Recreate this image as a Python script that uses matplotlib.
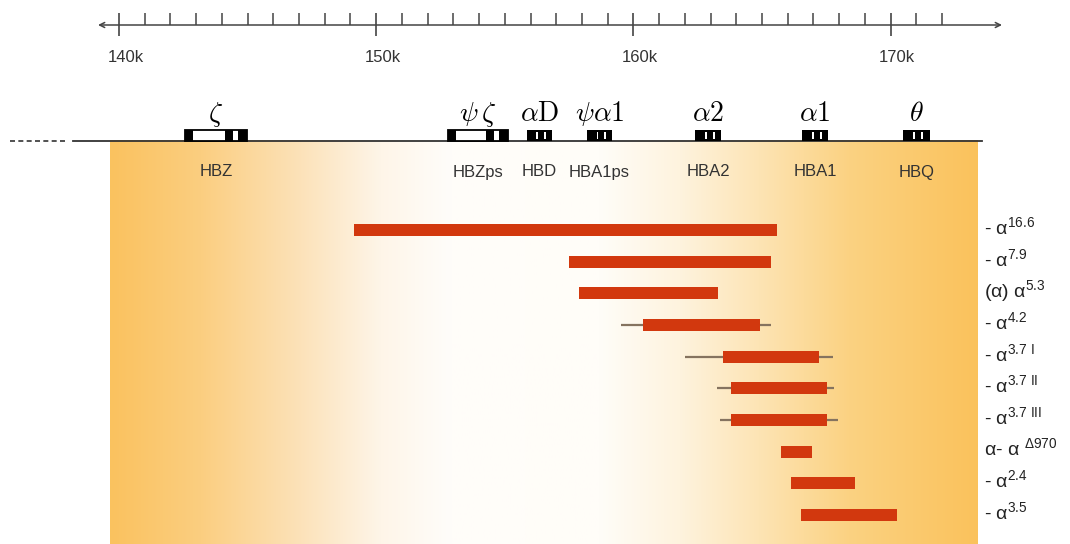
import numpy as np
import matplotlib.pyplot as plt
from matplotlib.patches import Rectangle

plt.rcParams['font.family'] = ['Liberation Sans', 'DejaVu Sans']
plt.rcParams['mathtext.fontset'] = 'custom'
plt.rcParams['mathtext.rm'] = 'Liberation Sans'
plt.rcParams['mathtext.it'] = 'Liberation Sans:italic'
plt.rcParams['mathtext.bf'] = 'Liberation Sans:bold'
plt.rcParams['mathtext.default'] = 'regular'

# ---- data (positions in kb) ----
gene_symbols = [r'$\mathit{\zeta}$', r'$\mathit{\psi}\,\mathit{\zeta}$',
                r'$\mathit{\alpha}\mathrm{D}$', r'$\mathit{\psi\alpha}\mathrm{1}$',
                r'$\mathit{\alpha}\mathrm{2}$', r'$\mathit{\alpha}\mathrm{1}$',
                r'$\mathit{\theta}$']
gene_names = ['HBZ', 'HBZps', 'HBD', 'HBA1ps', 'HBA2', 'HBA1', 'HBQ']
gene_start = [142.57, 152.79, 155.86, 158.20, 162.40, 166.56, 170.48]
gene_end = [144.97, 155.12, 156.83, 159.17, 163.41, 167.57, 171.53]

del_labels = [r'- α$^{16.6}$', r'- α$^{7.9}$', r'(α) α$^{5.3}$', r'- α$^{4.2}$',
              r'- α$^{3.7\ I}$', r'- α$^{3.7\ II}$', r'- α$^{3.7\ III}$',
              r'α- α $^{Δ970}$', r'- α$^{2.4}$', r'- α$^{3.5}$']
del_start = [149.14, 157.50, 157.90, 160.36, 163.50, 163.78, 163.78, 165.72, 166.12, 166.52]
del_end = [165.57, 165.34, 163.28, 164.92, 167.23, 167.54, 167.54, 166.96, 168.62, 170.24]
# breakpoint uncertainty (None = not shown)
unc_start = [None, None, None, 159.51, 162.01, 163.24, 163.37, None, None, None]
unc_end = [None, None, None, 165.34, 167.77, 167.80, 167.97, None, None, None]

major_ticks = [140, 150, 160, 170]
minor_ticks = list(range(141, 173))


def px(p):
    # pixel column -> kb (layout helper)
    return 140 + (p - 119) / 25.72


fig = plt.figure(figsize=(10.7, 5.44), dpi=100)
ax = fig.add_axes([0, 0, 1, 1])
ax.set_xlim(px(0), px(1070))
ax.set_ylim(544, 0)
ax.axis('off')

# фон с градиентом
stops = [110, 200, 300, 380, 450, 600, 680, 760, 850, 978]
cols = np.array([(250, 194, 95), (251, 206, 128), (252, 226, 185), (254, 245, 232),
                 (255, 253, 250), (255, 253, 248), (254, 243, 222), (253, 228, 180),
                 (251, 210, 130), (250, 194, 92)]) / 255
xs = np.linspace(110, 978, 400)
grad = np.stack([np.interp(xs, stops, cols[:, k]) for k in range(3)], axis=-1)[None, :, :]
ax.imshow(grad, extent=[px(110), px(978), 544, 140.5], aspect='auto',
          interpolation='bilinear', zorder=0)

# линейка
ax.annotate('', xy=(px(1002), 25), xytext=(px(98), 25),
            arrowprops=dict(arrowstyle='<->', color='#444444', lw=1.1,
                            mutation_scale=9, shrinkA=0, shrinkB=0))
ax.vlines(major_ticks, 13, 36, color='#444444', lw=1.2)
ax.vlines([t for t in minor_ticks if t % 10], 13, 25, color='#444444', lw=1.1)
for t in major_ticks:
    ax.text(t + 0.25, 57, f'{t}k', ha='center', va='center', fontsize=12, color='#333333')

# хромосома
ax.plot([px(10), px(66)], [140.5, 140.5], color='#333333', lw=1.2, ls=(0, (3, 2)))
ax.plot([px(73), px(982)], [140.5, 140.5], color='#333333', lw=1.3)

for i, (s, e) in enumerate(zip(gene_start, gene_end)):
    w = e - s
    if i < 2:
        ax.add_patch(Rectangle((s, 130), w, 10.5, facecolor='white', edgecolor='black',
                               lw=1.3, zorder=4))
        for a, b in [(0, 0.13), (0.64, 0.77), (0.85, 1.0)]:
            ax.add_patch(Rectangle((s + a * w, 130), (b - a) * w, 10.5,
                                   facecolor='black', lw=0, zorder=5))
    else:
        ax.add_patch(Rectangle((s, 130), w, 10.5, facecolor='black', lw=0, zorder=4))
        for a in [0.38, 0.68]:
            ax.add_patch(Rectangle((s + a * w, 131.5), 0.07 * w, 7.5,
                                   facecolor='white', lw=0, zorder=5))
    c = (s + e) / 2
    ax.text(c, 121, gene_symbols[i], ha='center', va='baseline', fontsize=20,
            math_fontfamily='cm', color='black')
    ax.text(c, 172, gene_names[i], ha='center', va='center', fontsize=12, color='#333333')

# делеции
rows = [230 + 31.65 * i for i in range(len(del_labels))]
for r, a, b in zip(rows, unc_start, unc_end):
    if a is not None:
        ax.hlines(r, a, b, color='#85735f', lw=1.6, zorder=2)
ax.barh(rows, np.array(del_end) - np.array(del_start), left=del_start, height=12,
        color='#D2380E', zorder=3)
for r, lab in zip(rows, del_labels):
    ax.text(px(984), r + 4, lab, ha='left', va='baseline', fontsize=14, color='#222222')

fig.savefig('out.png', dpi=100)
